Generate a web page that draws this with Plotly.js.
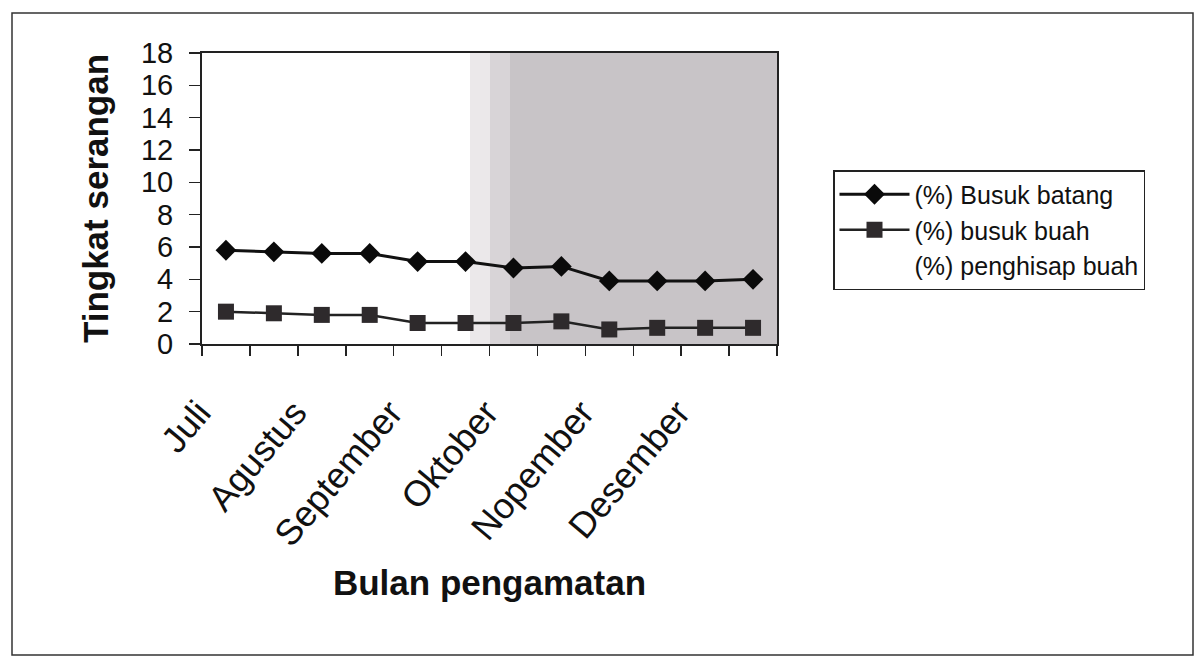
<!DOCTYPE html>
<html>
<head>
<meta charset="utf-8">
<script src="https://cdn.plot.ly/plotly-3.0.1.min.js"></script>
<style>
html,body{margin:0;padding:0;background:#fff;}
#chart{width:1196px;height:657px;}
</style>
</head>
<body>
<div id="chart"></div>
<script>
// Data
const months = ['Juli', 'Agustus', 'September', 'Oktober', 'Nopember', 'Desember'];
const observations = [0, 1, 2, 3, 4, 5, 6, 7, 8, 9, 10, 11]; // two observations per month
const busukBatang = [5.8, 5.7, 5.6, 5.6, 5.1, 5.1, 4.7, 4.8, 3.9, 3.9, 3.9, 4.0];
const busukBuah = [2.0, 1.9, 1.8, 1.8, 1.3, 1.3, 1.3, 1.4, 0.9, 1.0, 1.0, 1.0];
const penghisapBuah = [0, 0, 0, 0, 0, 0, 0, 0, 0, 0, 0, 0];
const yTicks = [0, 2, 4, 6, 8, 10, 12, 14, 16, 18];

// Layout geometry (pixels)
const W = 1196, H = 657;
const M = {l: 202, r: W - 777, t: 53, b: H - 344};
const PW = W - M.l - M.r, PH = H - M.t - M.b;
const px = x => (x - M.l) / PW;
const py = y => (H - M.b - y) / PH;

const FONT = 'Liberation Sans, Arial, sans-serif';

const traces = [
  {
    x: observations, y: busukBatang, name: '(%) Busuk batang',
    type: 'scatter', mode: 'lines+markers',
    line: {color: '#111', width: 3},
    marker: {symbol: 'diamond', size: 16, color: '#0a0a0a'}
  },
  {
    x: observations, y: busukBuah, name: '(%) busuk buah',
    type: 'scatter', mode: 'lines+markers',
    line: {color: '#222', width: 2.5},
    marker: {symbol: 'square', size: 16, color: '#2e2a2c'}
  },
  {
    x: observations, y: penghisapBuah, name: '(%) penghisap buah',
    type: 'scatter', mode: 'lines',
    line: {color: 'rgba(0,0,0,0)', width: 0},
    hoverinfo: 'skip'
  }
];

const boundaries = observations.map(i => i - 0.5).concat([observations.length - 0.5]);
const labelPos = months.map((m, i) => i * 2);

const layout = {
  width: W, height: H,
  margin: M,
  paper_bgcolor: '#ffffff',
  plot_bgcolor: '#ffffff',
  showlegend: true,
  font: {family: FONT, color: '#111'},
  xaxis: {
    range: [-0.5, 11.5],
    tickmode: 'array', tickvals: labelPos, ticktext: months,
    ticks: '', tickangle: -50,
    ticklabelstandoff: 31, ticklabelshift: -27,
    tickfont: {family: FONT, size: 36, color: '#111'},
    minor: {tickmode: 'array', tickvals: boundaries, ticks: 'outside', ticklen: 10, tickwidth: 1.5, tickcolor: '#222', showgrid: false},
    showline: true, linecolor: '#222', linewidth: 2, mirror: true,
    showgrid: false, zeroline: false,
    title: {text: 'Bulan pengamatan', font: {family: FONT, size: 35, color: '#111', weight: 'bold'}, standoff: 18}
  },
  yaxis: {
    range: [0, 18],
    tickmode: 'array', tickvals: yTicks, ticktext: yTicks.map(String),
    ticks: 'outside', ticklen: 11, tickwidth: 1.5, tickcolor: '#222',
    ticklabelstandoff: 10,
    tickfont: {family: FONT, size: 29, color: '#111'},
    showline: true, linecolor: '#222', linewidth: 2, mirror: true,
    showgrid: false, zeroline: false,
    title: {text: 'Tingkat serangan', font: {family: FONT, size: 35, color: '#111', weight: 'bold'}, standoff: 22}
  },
  legend: {
    x: px(833), y: py(170), xanchor: 'left', yanchor: 'top',
    bgcolor: '#ffffff', bordercolor: '#222', borderwidth: 1.5,
    font: {family: FONT, size: 25, color: '#111'},
    itemwidth: 70, tracegroupgap: 0
  },
  shapes: [
    // scanned grey shading on the right of the plot area
    {type: 'rect', xref: 'paper', yref: 'paper', layer: 'below',
     x0: px(470), x1: px(490), y0: 0, y1: 1, line: {width: 0}, fillcolor: '#ebe8ea'},
    {type: 'rect', xref: 'paper', yref: 'paper', layer: 'below',
     x0: px(490), x1: px(510), y0: 0, y1: 1, line: {width: 0}, fillcolor: '#d8d4d7'},
    {type: 'rect', xref: 'paper', yref: 'paper', layer: 'below',
     x0: px(510), x1: 1, y0: 0, y1: 1, line: {width: 0}, fillcolor: '#c8c4c7'},
    // outer frame of the figure
    {type: 'rect', xref: 'paper', yref: 'paper', layer: 'above',
     x0: px(12), x1: px(1193), y0: py(655), y1: py(13),
     line: {color: '#333', width: 1.5}, fillcolor: 'rgba(0,0,0,0)'}
  ]
};

Plotly.newPlot('chart', traces, layout, {staticPlot: true, displayModeBar: false});
</script>
</body>
</html>
